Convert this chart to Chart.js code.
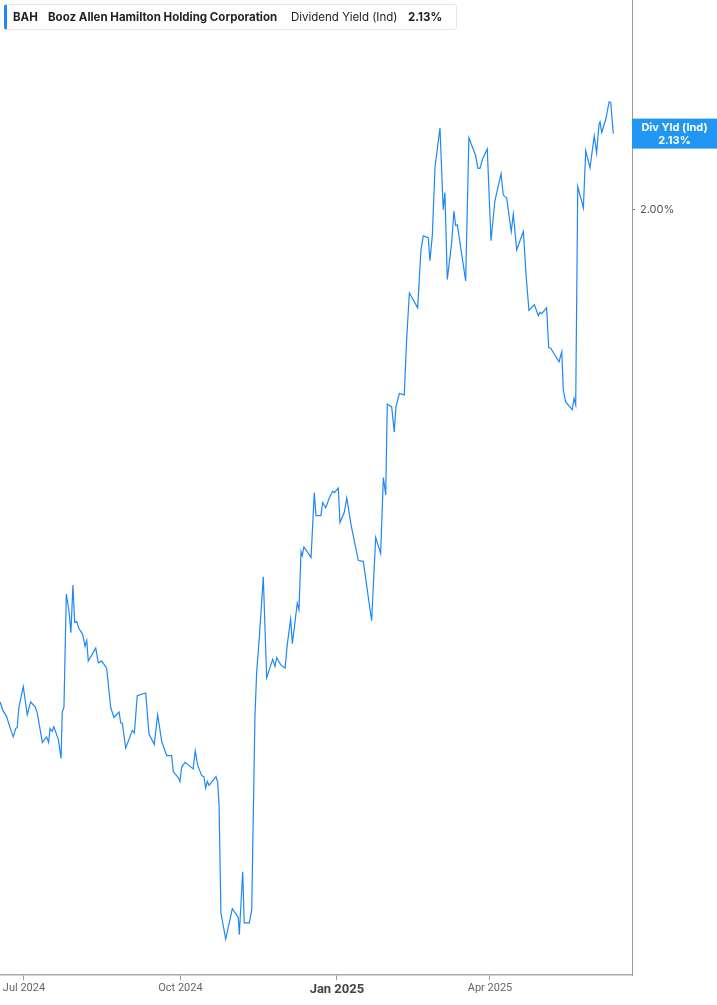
<!DOCTYPE html>
<html>
<head>
<meta charset="utf-8">
<script src="https://cdn.jsdelivr.net/npm/chart.js@4"></script>
<style>
  body { margin: 0; background: #fff; }
  #wrap { position: relative; width: 717px; height: 1005px; }
  #hdr {
    position: absolute; left: 4px; top: 4px; width: 453px; height: 26px;
    box-sizing: border-box; border: 1px solid #e6e6e6; border-left: 3px solid #1e88f5;
    border-radius: 3px; background: #fff;
    font-family: Inter, "Noto Sans", sans-serif; font-size: 11.5px; color: #222;
    white-space: nowrap;
  }
  #hdr span { position: absolute; top: 0; line-height: 24px; }
  #hdr b { font-weight: 700; }
</style>
</head>
<body>
<div id="wrap">
  <canvas id="c"></canvas>
  <div id="hdr">
    <span style="left:6px"><b>BAH</b></span>
    <span style="left:41px"><b>Booz Allen Hamilton Holding Corporation</b></span>
    <span style="left:284px">Dividend Yield (Ind)</span>
    <span style="left:401px"><b>2.13%</b></span>
  </div>
</div>
<script>
// days since 2024-06-17
const days = [0,1.5,3.8,5.8,7.7,9.1,10,11,13.6,15.9,17.9,20.5,21.8,24.8,27.3,28.5,29.3,30.6,31.6,34.2,
  35.8,36.5,37.5,38.9,40.5,41.6,42.8,43.8,45,46.2,48.5,49.9,50.9,51.8,56.2,57.7,59.7,62.6,65,66.9,
  69.9,70.9,71.8,73.8,77.7,78.9,80.6,85.6,87.5,
  90.6,92.6,95,97.9,100.8,101.8,104.7,105.7,106.7,108.7,113.5,114.7,116.1,118.5,119.8,
  120.8,121.8,122.8,126.9,127.9,128.7,129.8,132.6,134.1,134.7,136.5,140,140.6,142.6,143.5,
  146.5,147.9,149.8,150.8,152.4,154.7,156.7,160.2,161.6,162.6,164.9,167.5,168.8,170.8,171.8,
  174.7,175.7,176.9,177.6,178.6,182.8,184.7,185.7,188.6,189.6,191.4,193.5,195.5,196.5,198.8,
  199.8,202.3,203.8,206.3,210.6,213.5,218.4,220.8,223.7,225.3,226.7,227.6,230.2,231.7,232.7,
  234.7,237.6,239,240.6,245.5,247.4,248.8,251.7,252.7,254.1,255.7,258.6,260.5,261.5,262.9,
  265.5,266.8,267.8,268.8,273.7,275.6,277.2,279.6,280.9,282.1,283.7,286.4,288.6,290.9,294.5,
  295.8,296.8,297.8,300.5,301.7,303.7,307.6,309.2,310.9,314.1,316.4,317.4,318.4,321.3,322.5,
  323.7,328.6,330.2,331.1,332.5,336.4,337.4,338.4,339.6,342.9,344.3,346.8,349.3,350.7,352.1,
  352.7,353.7,356.2,358,359,360.5];

// dividend yield (indicated), %
const yields = [1.327,1.318,1.311,1.299,1.289,1.298,1.299,1.321,1.344,1.313,1.327,1.322,1.315,1.283,1.289,
  1.283,1.298,1.295,1.300,1.286,1.266,1.316,1.321,1.452,1.431,1.406,1.463,1.418,1.419,1.411,
  1.404,1.390,1.397,1.373,1.388,1.371,1.373,1.365,1.321,1.310,1.316,1.304,1.304,1.277,1.296,
  1.293,1.334,1.337,1.292,
  1.281,1.313,1.284,1.269,1.269,1.252,1.246,1.242,1.257,1.262,1.255,1.274,1.259,1.248,1.247,
  1.235,1.242,1.238,1.247,1.241,1.218,1.113,1.089,1.100,1.104,1.117,1.109,1.093,1.152,1.104,
  1.104,1.116,1.311,1.360,1.401,1.473,1.354,1.375,1.367,1.377,1.369,1.365,1.392,1.422,1.393,
  1.441,1.433,1.504,1.499,1.510,1.497,1.580,1.550,1.550,1.567,1.560,1.573,1.582,1.580,1.586,
  1.541,1.554,1.573,1.538,1.493,1.492,1.420,1.522,1.502,1.600,1.577,1.701,1.697,1.662,1.697,
  1.716,1.714,1.795,1.866,1.843,1.934,1.957,1.954,1.917,1.958,2.073,2.141,2.000,2.029,1.887,
  1.947,1.998,1.974,1.975,1.885,2.124,2.111,2.092,2.070,2.070,2.087,2.104,1.949,2.015,2.061,
  2.025,2.022,2.020,1.964,1.993,1.934,1.964,1.895,1.839,1.848,1.831,1.836,1.834,1.843,1.783,
  1.782,1.762,1.777,1.721,1.704,1.693,1.709,1.700,2.039,2.003,2.101,2.071,2.127,2.097,2.147,
  2.152,2.133,2.158,2.188,2.187,2.131];

const xTickDays = [14, 106, 198, 288];
const xTickLabels = ['Jul 2024', 'Oct 2024', 'Jan 2025', 'Apr 2025'];
const yTicks = [2.0];
const lastLabel = ['Div Yld (Ind)', '2.13%'];

const lineColor = '#1e88f5';

const lastBox = {
  id: 'lastBox',
  afterDraw(chart) {
    const ctx = chart.ctx;
    const ys = chart.scales.y;
    const v = yields[yields.length - 1];
    const py = ys.getPixelForValue(v);
    const x0 = chart.chartArea.right;
    const w = chart.width - x0;
    ctx.save();
    ctx.fillStyle = '#2196f3';
    ctx.fillRect(x0, py - 15, w, 30);
    ctx.fillStyle = '#fff';
    ctx.font = 'bold 11px Inter, "Noto Sans", sans-serif';
    ctx.textAlign = 'center';
    ctx.textBaseline = 'middle';
    ctx.fillText(lastLabel[0], x0 + w / 2, py - 6);
    ctx.fillText(lastLabel[1], x0 + w / 2, py + 7);
    ctx.restore();
  }
};

function noPad(s) {
  s.paddingTop = 0; s.paddingBottom = 0; s.paddingLeft = 0; s.paddingRight = 0;
}

new Chart(document.getElementById('c'), {
  type: 'line',
  data: {
    datasets: [{
      data: days.map((d, i) => ({x: d, y: yields[i]})),
      borderColor: lineColor,
      borderWidth: 1.2,
      pointRadius: 0,
      tension: 0,
      fill: false
    }]
  },
  options: {
    responsive: true,
    maintainAspectRatio: false,
    animation: false,
    layout: {padding: 0},
    plugins: {legend: {display: false}, tooltip: {enabled: false}},
    scales: {
      x: {
        type: 'linear',
        min: -0.1,
        max: 371.5,
        afterBuildTicks: s => { s.ticks = xTickDays.map(v => ({value: v})); },
        afterFit: s => { s.height = 30; noPad(s); },
        grid: {drawOnChartArea: false, drawTicks: true, tickLength: 5, color: '#999'},
        border: {display: true, color: '#aaa', width: 1.5},
        ticks: {
          autoSkip: false,
          maxRotation: 0,
          padding: 2,
          color: (c) => c.tick && c.tick.value === 198 ? '#444' : '#666',
          font: (c) => (c.tick && c.tick.value === 198)
            ? {family: '"Liberation Sans Narrow", Roboto, sans-serif', size: 13, weight: 'bold'}
            : {family: '"Liberation Sans Narrow", Roboto, sans-serif', size: 11},
          callback: v => xTickLabels[xTickDays.indexOf(v)] || ''
        }
      },
      y: {
        type: 'logarithmic',
        position: 'right',
        min: 1.057,
        max: 2.382,
        afterBuildTicks: s => { s.ticks = yTicks.map(v => ({value: v})); },
        afterFit: s => { s.width = 85; noPad(s); },
        grid: {drawOnChartArea: false, drawTicks: true, tickLength: 3, color: '#777'},
        border: {display: true, color: '#999', width: 1},
        ticks: {
          padding: 5,
          color: '#555',
          font: {family: 'Inter, "Noto Sans", sans-serif', size: 11},
          callback: v => v.toFixed(2) + '%'
        }
      }
    }
  },
  plugins: [lastBox]
});
</script>
</body>
</html>
